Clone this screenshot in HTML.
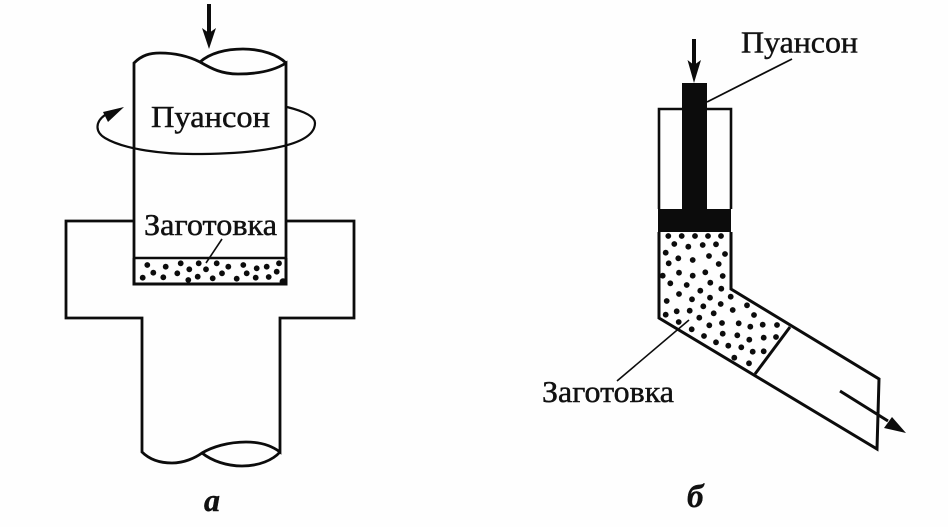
<!DOCTYPE html>
<html><head><meta charset="utf-8"><style>
html,body{margin:0;padding:0;background:#fefefe}
svg{display:block}
text{font-family:"Liberation Serif",serif;fill:#111;stroke:#111;stroke-width:.45}
</style></head><body>
<svg width="948" height="527" viewBox="0 0 948 527" xmlns="http://www.w3.org/2000/svg">
<rect width="948" height="527" fill="#fefefe"/>
<g fill="none" stroke="#0c0c0c" stroke-width="2.800" stroke-linejoin="miter">
<!-- Figure a -->
<path d="M134,258V63C142,55 150,53 160,53C178,53 190,57 200,62C212,69 222,74 238,74C258,74 275,70 286,63V258"/>
<path d="M200,62C210,53 226,49 243,49C262,49 278,55 286,63"/>
<path d="M134,221H66V318H142V452C150,460 160,463 172,463C184,463 195,458 202,453C212,447 228,442 246,442C262,442 272,446 280,452V318H354V221H286"/>
<path d="M202,453C212,461 227,466 242,466C259,466 273,460 280,452"/>
<path d="M105,115C95,122 95,132 105,138C125,150 165,154 193,154C250,154 315,148 315,123C315,116 303,111 287,107" stroke-width="2.200"/>
<path d="M134,258H286" stroke-width="2.400"/>
<path d="M134,258V284H286V258" stroke-width="3"/>
<path d="M222,239L206,263" stroke-width="1.600"/>
<!-- Figure b -->
<path d="M659,209V109H731V209" stroke-width="2.600"/>
<path d="M659,232V318L877,449L879,379L731,289V232" stroke-width="3"/>
<path d="M790,327L755,374" stroke-width="3"/>
<path d="M707,102L792,59" stroke-width="1.800"/>
<path d="M617,381L689,320" stroke-width="1.600"/>
<path d="M840,391L888,421" stroke-width="3"/>
</g>
<g fill="#0c0c0c">
<rect x="207" y="4" width="4" height="32"/>
<path d="M202,28L209,33L216,28L209,49Z"/>
<path d="M124,107L103,112L108,122Z"/>
<rect x="682" y="83" width="25" height="130"/>
<rect x="658" y="209" width="73" height="23"/>
<rect x="692" y="39" width="4" height="28"/>
<path d="M687.500,60L694,65L701,60L694,83Z"/>
<path d="M906,433L884,428L892,417Z"/>
</g>
<g fill="#0c0c0c">
<circle cx="147.300" cy="265" r="2.900"/><circle cx="165.700" cy="266.700" r="2.900"/><circle cx="180.700" cy="263.300" r="2.900"/><circle cx="198.700" cy="263.300" r="2.900"/><circle cx="216.700" cy="263.300" r="2.900"/><circle cx="228.300" cy="266.700" r="2.900"/><circle cx="243.300" cy="265" r="2.900"/><circle cx="256.700" cy="268.300" r="2.900"/><circle cx="266.700" cy="266.700" r="2.900"/><circle cx="279" cy="263.300" r="2.900"/><circle cx="153.300" cy="272.700" r="2.900"/><circle cx="177.300" cy="273.300" r="2.900"/><circle cx="189.300" cy="269.300" r="2.900"/><circle cx="206" cy="269.300" r="2.900"/><circle cx="222" cy="273.300" r="2.900"/><circle cx="246.700" cy="273.300" r="2.900"/><circle cx="276.700" cy="271.700" r="2.900"/><circle cx="142.700" cy="277.700" r="2.900"/><circle cx="163.300" cy="277.300" r="2.900"/><circle cx="188.300" cy="280" r="2.900"/><circle cx="197.700" cy="276.700" r="2.900"/><circle cx="212.700" cy="278.300" r="2.900"/><circle cx="236.700" cy="278.700" r="2.900"/><circle cx="255.700" cy="277.700" r="2.900"/><circle cx="268.700" cy="277" r="2.900"/><circle cx="283" cy="281.700" r="3.400"/>
<circle cx="668.300" cy="236" r="2.900"/><circle cx="681.700" cy="236" r="2.900"/><circle cx="695" cy="236" r="2.900"/><circle cx="708" cy="236" r="2.900"/><circle cx="721" cy="236" r="2.900"/><circle cx="674.300" cy="244" r="2.900"/><circle cx="688.300" cy="246.700" r="2.900"/><circle cx="702.700" cy="245" r="2.900"/><circle cx="716" cy="244.300" r="2.900"/><circle cx="665.700" cy="252.700" r="2.900"/><circle cx="725" cy="254" r="2.900"/><circle cx="678.300" cy="258.300" r="2.900"/><circle cx="709" cy="256" r="2.900"/><circle cx="692.700" cy="260" r="2.900"/><circle cx="668.700" cy="263.300" r="2.900"/><circle cx="718.700" cy="264" r="2.900"/><circle cx="679" cy="272.700" r="2.900"/><circle cx="705.300" cy="272.300" r="2.900"/><circle cx="692.700" cy="275.700" r="2.900"/><circle cx="662.700" cy="275.700" r="2.900"/><circle cx="722.700" cy="276" r="2.900"/><circle cx="670.300" cy="283.300" r="2.900"/><circle cx="686.700" cy="285" r="2.900"/><circle cx="710.300" cy="282.700" r="2.900"/><circle cx="700.300" cy="290.700" r="2.900"/><circle cx="721.300" cy="288.700" r="2.900"/><circle cx="679" cy="294" r="2.900"/><circle cx="710" cy="297.700" r="2.900"/><circle cx="692" cy="299.300" r="2.900"/><circle cx="730.700" cy="296.700" r="2.900"/><circle cx="666.700" cy="301" r="2.900"/><circle cx="720.700" cy="304" r="2.900"/><circle cx="703.300" cy="306.300" r="2.900"/><circle cx="747" cy="305.300" r="2.900"/><circle cx="676.700" cy="311.300" r="2.900"/><circle cx="689.700" cy="310.700" r="2.900"/><circle cx="732.700" cy="310" r="2.900"/><circle cx="665.700" cy="314.700" r="2.900"/><circle cx="713.700" cy="313.300" r="2.900"/><circle cx="754" cy="315" r="2.900"/><circle cx="699.300" cy="317.700" r="2.900"/><circle cx="722" cy="323" r="2.900"/><circle cx="678.700" cy="322" r="2.900"/><circle cx="738.700" cy="323.300" r="2.900"/><circle cx="709.300" cy="325.300" r="2.900"/><circle cx="750.300" cy="326.700" r="2.900"/><circle cx="762.700" cy="324.700" r="2.900"/><circle cx="777" cy="325" r="2.900"/><circle cx="691.700" cy="329.300" r="2.900"/><circle cx="722.700" cy="333.700" r="2.900"/><circle cx="737.300" cy="335.300" r="2.900"/><circle cx="704" cy="336" r="2.900"/><circle cx="749.300" cy="339.700" r="2.900"/><circle cx="763.700" cy="337.700" r="2.900"/><circle cx="776" cy="337" r="2.900"/><circle cx="716" cy="342.300" r="2.900"/><circle cx="728.300" cy="345.700" r="2.900"/><circle cx="741.300" cy="347.300" r="2.900"/><circle cx="752.700" cy="351.700" r="2.900"/><circle cx="763.700" cy="351.300" r="2.900"/><circle cx="734.300" cy="357.700" r="2.900"/><circle cx="749" cy="363.300" r="2.900"/>
</g>
<text x="151" y="127" font-size="31" textLength="119" lengthAdjust="spacingAndGlyphs">Пуансон</text>
<text x="144" y="235" font-size="31" textLength="133" lengthAdjust="spacingAndGlyphs">Заготовка</text>
<text x="741" y="52.500" font-size="31" textLength="117" lengthAdjust="spacingAndGlyphs">Пуансон</text>
<text x="542" y="402" font-size="31" textLength="132" lengthAdjust="spacingAndGlyphs">Заготовка</text>
<text x="204" y="511" font-size="32" font-style="italic" font-weight="bold">а</text>
<text x="687" y="507" font-size="33" font-style="italic" font-weight="bold">б</text>
</svg>
</body></html>
